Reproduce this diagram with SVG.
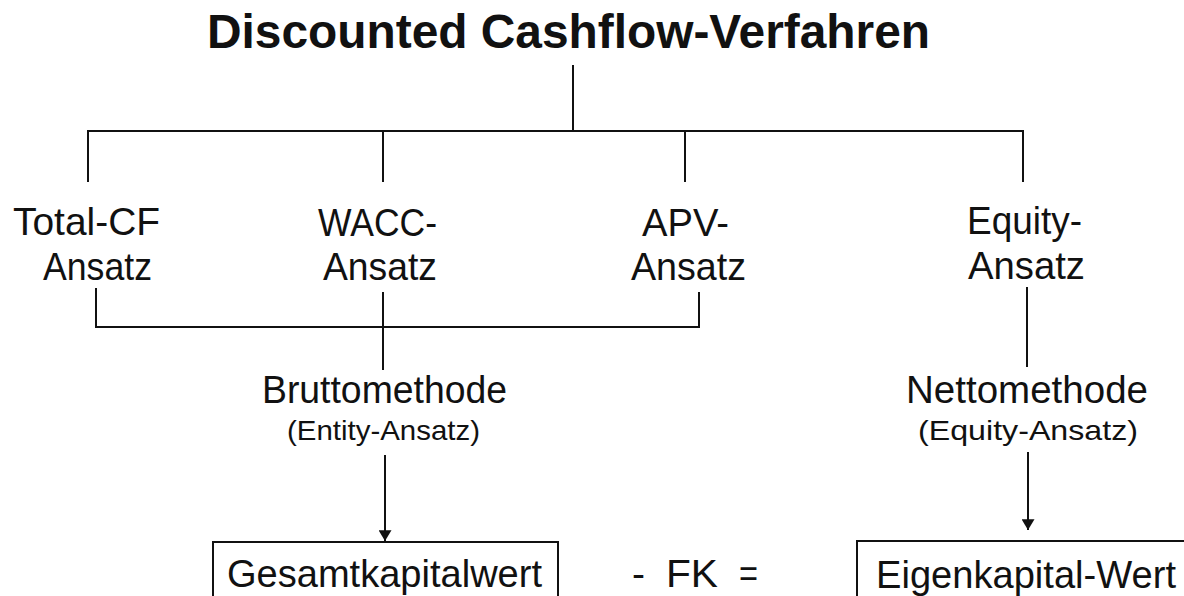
<svg xmlns="http://www.w3.org/2000/svg" width="1184" height="596" viewBox="0 0 1184 596">
<defs>
<marker id="ah" viewBox="0 0 10 12" refX="10" refY="6" markerWidth="11" markerHeight="13" markerUnits="userSpaceOnUse" orient="auto">
<path d="M0,0 L10,6 L0,12 Z" fill="#111"/>
</marker>
<style>
text{font-family:"Liberation Sans",Arial,sans-serif;fill:#111;}
.t{font-size:48px;font-weight:bold;}
.l{font-size:39px;}
.s{font-size:28px;}
.c{stroke:#111;stroke-width:2;fill:none;}
.b{stroke:#111;stroke-width:2;fill:none;}
</style>
</defs>
<rect width="1184" height="596" fill="#fff"/>
<g id="title"><text class="t" x="207" y="48" textLength="723" lengthAdjust="spacingAndGlyphs">Discounted Cashflow-Verfahren</text></g>
<g id="connectors">
<path class="c" d="M573,65 V130 M88,131 H1023 M88,130 V182 M383,130 V182 M685,130 V182 M1023,130 V182"/>
<path class="c" d="M96,288 V327 H699 V292 M383,292 V370"/>
<path class="c" d="M1027,287 V367"/>
<path class="c" d="M385,455 V541" marker-end="url(#ah)"/>
<path class="c" d="M1028,452 V530" marker-end="url(#ah)"/>
</g>
<g id="total"><text class="l" x="13" y="235" textLength="147" lengthAdjust="spacingAndGlyphs">Total-CF</text><text class="l" x="43" y="280" textLength="109" lengthAdjust="spacingAndGlyphs">Ansatz</text></g>
<g id="wacc"><text class="l" x="318" y="236" textLength="119" lengthAdjust="spacingAndGlyphs">WACC-</text><text class="l" x="323" y="280" textLength="114" lengthAdjust="spacingAndGlyphs">Ansatz</text></g>
<g id="apv"><text class="l" x="642" y="236" textLength="87" lengthAdjust="spacingAndGlyphs">APV-</text><text class="l" x="631" y="280" textLength="115" lengthAdjust="spacingAndGlyphs">Ansatz</text></g>
<g id="equity"><text class="l" x="967" y="234" textLength="115" lengthAdjust="spacingAndGlyphs">Equity-</text><text class="l" x="968" y="279" textLength="117" lengthAdjust="spacingAndGlyphs">Ansatz</text></g>
<g id="brutto"><text class="l" x="262" y="403" textLength="245" lengthAdjust="spacingAndGlyphs">Bruttomethode</text><text class="s" x="287" y="440" textLength="193" lengthAdjust="spacingAndGlyphs">(Entity-Ansatz)</text></g>
<g id="netto"><text class="l" x="906" y="403" textLength="242" lengthAdjust="spacingAndGlyphs">Nettomethode</text><text class="s" x="918" y="440" textLength="220" lengthAdjust="spacingAndGlyphs">(Equity-Ansatz)</text></g>
<g id="gesamt"><rect class="b" x="213" y="542" width="345" height="80"/><text class="l" x="227" y="587" textLength="315" lengthAdjust="spacingAndGlyphs">Gesamtkapitalwert</text></g>
<g id="fk"><text class="l" x="632" y="587">-</text><text class="l" x="666" y="587" textLength="52" lengthAdjust="spacingAndGlyphs">FK</text><text class="l" x="739" y="587" textLength="19" lengthAdjust="spacingAndGlyphs">=</text></g>
<g id="eigen"><rect class="b" x="857" y="541" width="400" height="80"/><text class="l" x="876" y="588" textLength="300" lengthAdjust="spacingAndGlyphs">Eigenkapital-Wert</text></g>
</svg>
